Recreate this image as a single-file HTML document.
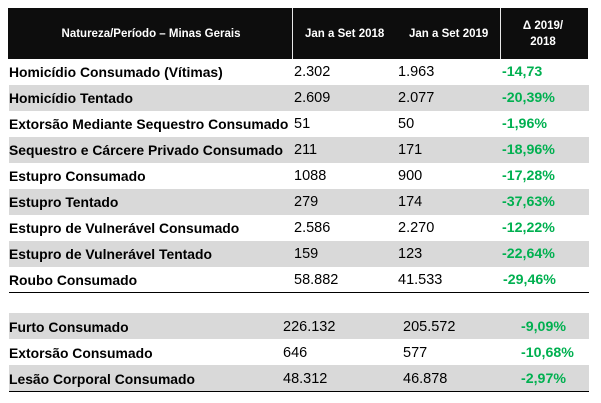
<!DOCTYPE html>
<html><head><meta charset="utf-8"><style>
html,body{margin:0;padding:0;background:#fff;}
body{width:601px;height:403px;position:relative;overflow:hidden;font-family:"Liberation Sans",Arial,sans-serif;}
.hdr{position:absolute;left:8px;top:8px;width:580px;height:51px;background:#0d0d0d;}
.vl{position:absolute;top:8px;width:1px;height:51px;background:#e8e8e8;}
.ht{position:absolute;color:#fff;font-weight:bold;font-size:11.5px;white-space:nowrap;line-height:16px;}
.row{position:absolute;left:9px;width:580px;height:26px;}
.g{background:#d9d9d9;}
.t{position:absolute;white-space:nowrap;line-height:26px;height:26px;color:#000;}
.l{left:9px;font-weight:bold;font-size:13.9px;}
.n{font-size:14.5px;}
.p{font-weight:bold;font-size:14.2px;color:#00b050;}
.line{position:absolute;left:9px;width:580px;height:1px;background:#000;}
</style></head><body>
<div class="hdr"></div>
<div class="vl" style="left:292px"></div>
<div class="vl" style="left:500px"></div>
<div class="ht" style="left:59px;top:26px;width:184px;text-align:center">Natureza/Período – Minas Gerais</div>
<div class="ht" style="left:305px;top:26px">Jan a Set 2018</div>
<div class="ht" style="left:409px;top:26px">Jan a Set 2019</div>
<div class="ht" style="left:510px;top:18px;width:66px;text-align:center">Δ 2019/</div>
<div class="ht" style="left:510px;top:34px;width:66px;text-align:center">2018</div>

<div class="row g" style="top:85px"></div>
<div class="row g" style="top:137px"></div>
<div class="row g" style="top:189px"></div>
<div class="row g" style="top:241px"></div>
<div class="line" style="top:292px"></div>

<div class="row g" style="top:313px"></div>
<div class="row g" style="top:365px"></div>
<div class="line" style="top:391px"></div>

<div class="t l" style="top:59px">Homicídio Consumado (Vítimas)</div>
<div class="t n" style="top:59px;left:294px">2.302</div>
<div class="t n" style="top:59px;left:398px">1.963</div>
<div class="t p" style="top:59px;left:502px">-14,73</div>

<div class="t l" style="top:85px">Homicídio Tentado</div>
<div class="t n" style="top:85px;left:294px">2.609</div>
<div class="t n" style="top:85px;left:398px">2.077</div>
<div class="t p" style="top:85px;left:502px">-20,39%</div>

<div class="t l" style="top:111px">Extorsão Mediante Sequestro Consumado</div>
<div class="t n" style="top:111px;left:294px">51</div>
<div class="t n" style="top:111px;left:398px">50</div>
<div class="t p" style="top:111px;left:502px">-1,96%</div>

<div class="t l" style="top:137px">Sequestro e Cárcere Privado Consumado</div>
<div class="t n" style="top:137px;left:294px">211</div>
<div class="t n" style="top:137px;left:398px">171</div>
<div class="t p" style="top:137px;left:502px">-18,96%</div>

<div class="t l" style="top:163px">Estupro Consumado</div>
<div class="t n" style="top:163px;left:294px">1088</div>
<div class="t n" style="top:163px;left:398px">900</div>
<div class="t p" style="top:163px;left:502px">-17,28%</div>

<div class="t l" style="top:189px">Estupro Tentado</div>
<div class="t n" style="top:189px;left:294px">279</div>
<div class="t n" style="top:189px;left:398px">174</div>
<div class="t p" style="top:189px;left:502px">-37,63%</div>

<div class="t l" style="top:215px">Estupro de Vulnerável Consumado</div>
<div class="t n" style="top:215px;left:294px">2.586</div>
<div class="t n" style="top:215px;left:398px">2.270</div>
<div class="t p" style="top:215px;left:502px">-12,22%</div>

<div class="t l" style="top:241px">Estupro de Vulnerável Tentado</div>
<div class="t n" style="top:241px;left:294px">159</div>
<div class="t n" style="top:241px;left:398px">123</div>
<div class="t p" style="top:241px;left:502px">-22,64%</div>

<div class="t l" style="top:267px">Roubo Consumado</div>
<div class="t n" style="top:267px;left:294px">58.882</div>
<div class="t n" style="top:267px;left:398px">41.533</div>
<div class="t p" style="top:267px;left:503px">-29,46%</div>

<div class="t l" style="top:314px">Furto Consumado</div>
<div class="t n" style="top:314px;left:283px">226.132</div>
<div class="t n" style="top:314px;left:403px">205.572</div>
<div class="t p" style="top:314px;left:521px">-9,09%</div>

<div class="t l" style="top:340px">Extorsão Consumado</div>
<div class="t n" style="top:340px;left:283px">646</div>
<div class="t n" style="top:340px;left:403px">577</div>
<div class="t p" style="top:340px;left:521px">-10,68%</div>

<div class="t l" style="top:366px">Lesão Corporal Consumado</div>
<div class="t n" style="top:366px;left:283px">48.312</div>
<div class="t n" style="top:366px;left:403px">46.878</div>
<div class="t p" style="top:366px;left:521px">-2,97%</div>
</body></html>
